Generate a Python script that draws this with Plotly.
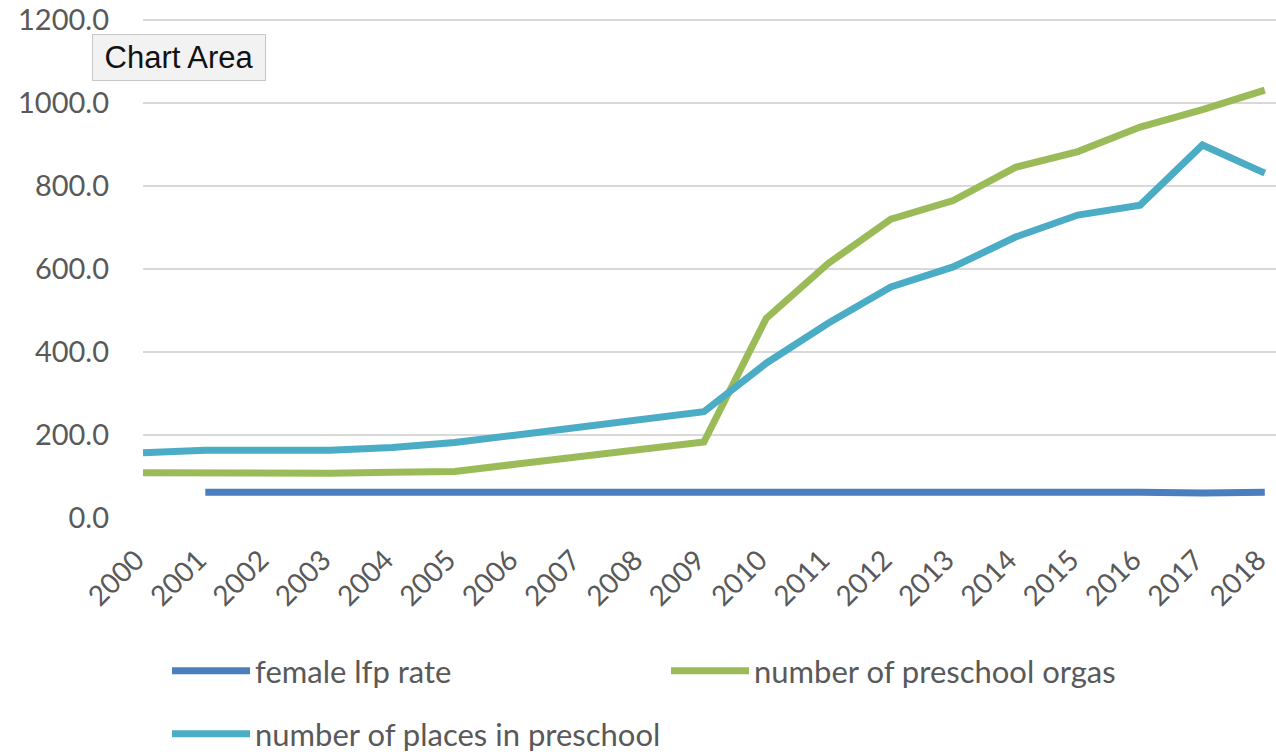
import plotly.graph_objects as go

years = list(range(2000, 2019))
year_labels = [str(y) for y in years]

female_lfp_rate = [None, 62, 62, 62, 62, 62, 62, 62, 65, 62, 62, 65, 62, 65, 62, 62, 62, 60, 62]
preschool_orgas = [109, 108, 108, 108, 110, 112, 130, 148, 166, 183, 481, 614, 720, 765, 845, 883, 942, 984, 1031]
preschool_places = [157, 163, 163, 163, 170, 182, 200, 219, 238, 256, 373, 470, 557, 605, 677, 730, 754, 899, 831]

series_names = ["female lfp rate", "number of preschool orgas", "number of places in preschool"]
series_colors = ["#4A7EBF", "#9BBB59", "#4BACC6"]
series_values = [female_lfp_rate, preschool_orgas, preschool_places]
series_legends = ["legend", "legend", "legend2"]

y_ticks = [0, 200, 400, 600, 800, 1000, 1200]

fig = go.Figure()
for name, color, vals, lg in zip(series_names, series_colors, series_values, series_legends):
    fig.add_trace(go.Scatter(
        x=years, y=vals, name=name, mode="lines",
        line=dict(color=color, width=7, shape="linear"),
        connectgaps=False, legend=lg,
    ))

text_color = "#595959"
legend_common = dict(
    orientation="h", xref="container", yref="container",
    x=0.1309, xanchor="left", yanchor="top",
    entrywidth=406, entrywidthmode="pixels", itemwidth=78,
    font=dict(family="Lato", size=31, color=text_color),
    tracegroupgap=0, bgcolor="rgba(0,0,0,0)",
)
fig.update_layout(
    width=1276, height=752,
    margin=dict(l=143, r=0, t=19, b=234, autoexpand=False),
    paper_bgcolor="white", plot_bgcolor="white",
    font=dict(family="Lato", size=28, color=text_color),
    showlegend=True,
    legend=dict(legend_common, y=0.1436),
    legend2=dict(legend_common, y=0.0598),
    xaxis=dict(
        range=[2000, 2018.18], tickmode="array", tickvals=years, ticktext=year_labels,
        tickangle=-45, showgrid=False, zeroline=False, showline=False, ticks="",
        tickfont=dict(family="Lato", size=28, color=text_color),
        ticklabelshift=-7, ticklabelstandoff=19, automargin=False,
        ticklabeloverflow="allow",
    ),
    yaxis=dict(
        range=[0, 1202.5], tickmode="array", tickvals=y_ticks, tickformat=".1f",
        showgrid=True, gridcolor="#D9D9D9", gridwidth=2, zeroline=False, showline=False,
        ticks="", tickfont=dict(family="Lato", size=29, color=text_color),
        ticklabelstandoff=33, automargin=False, ticklabeloverflow="allow",
    ),
    annotations=[dict(
        xref="paper", yref="paper", x=0.0318, y=0.9227, xanchor="center", yanchor="middle",
        text="Chart Area", showarrow=False, width=160, height=33,
        font=dict(family="Liberation Sans", size=31, color="#111111"),
        bgcolor="#F2F2F2", bordercolor="#C8C8C8", borderwidth=1, borderpad=6,
    )],
)

fig.write_html("out.html", config={"displayModeBar": False},
               post_script="document.body.style.margin='0';")
